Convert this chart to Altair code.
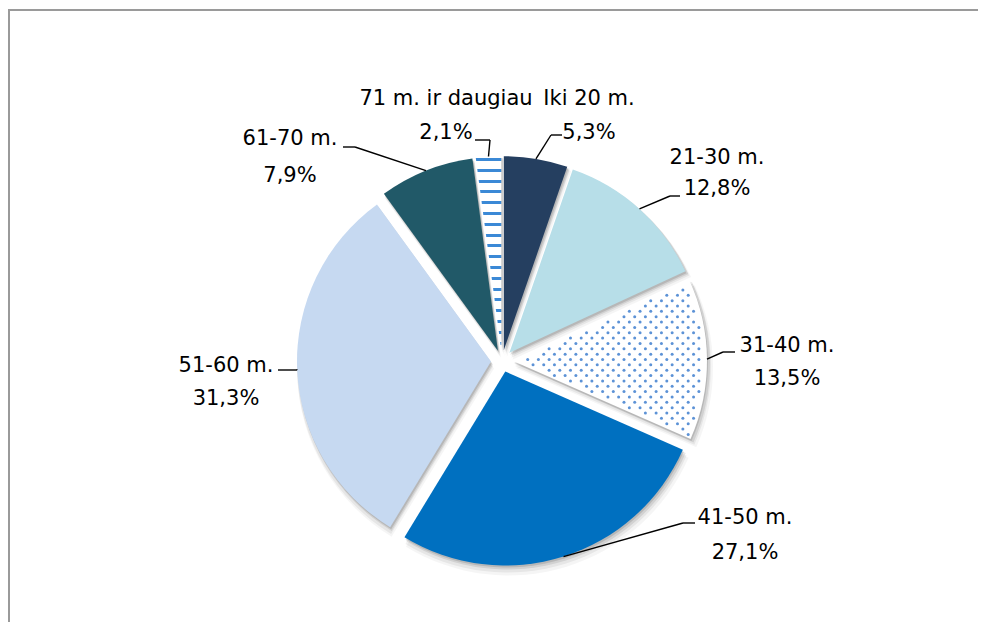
import math
import altair as alt
import pandas as pd

# ---------------- data ----------------
categories = ["Iki 20 m.", "21-30 m.", "31-40 m.", "41-50 m.", "51-60 m.", "61-70 m.", "71 m. ir daugiau"]
values = [5.3, 12.8, 13.5, 27.1, 31.3, 7.9, 2.1]
colors = ["#253F60", "#B7DEE8", "#FFFFFF", "#0070C0", "#C6D9F1", "#215968", "#FFFFFF"]

# ---------------- layout (chart pixel coordinates) ----------------
W, H = 970, 614
CX, CY = 494, 353
R = 194
EXPLODE = 11
label_x = [581, 709, 779, 737, 218, 282, 438]
name_y = [91, 150, 338, 510, 358, 131, 91]
pct_y = [125, 181, 371, 545, 391, 168, 125]
lead_start_x = [554, 672, 727, 687, 270, 335, 467]
lead_start_y = [127, 188, 344, 515, 362, 139, 132]
lead_elbow_x = [543, 662, 715, 675, 289, 347, 482]
lead_elbow_y = [127, 188, 344, 515, 362, 139, 132]

FONT = "DejaVu Sans"
DOT_COLOR = "#4A86D2"
STRIPE_COLOR = "#3B89D6"

df = pd.DataFrame({
    "category": categories,
    "value": values,
    "order": list(range(len(categories))),
    "lx": label_x, "ny": name_y, "py": pct_y,
    "sx": lead_start_x, "sy": lead_start_y,
    "bx": lead_elbow_x, "by": lead_elbow_y,
})

theta_scale = alt.Scale(domain=[0, 100], range=[0, 2 * math.pi])

base = alt.Chart(df).transform_window(
    cum="sum(value)", sort=[alt.SortField("order")], frame=[None, 0]
).transform_calculate(
    c0="datum.cum - datum.value",
    mid="(datum.cum - datum.value / 2) / 100 * 2 * PI",
    cx=f"{CX} + {EXPLODE} * sin(datum.mid)",
    cy=f"{CY} - {EXPLODE} * cos(datum.mid)",
    edx=f"datum.cx + {R} * sin(datum.mid)",
    edy=f"datum.cy - {R} * cos(datum.mid)",
    pct="replace(format(datum.value, '.1f'), '.', ',') + '%'",
)

pos = dict(
    x=alt.X("cx:Q", scale=None, axis=None),
    y=alt.Y("cy:Q", scale=None, axis=None),
    theta=alt.Theta("c0:Q", scale=theta_scale, stack=None),
    theta2=alt.Theta2("cum:Q"),
)

shadows = [
    base.mark_arc(radius=R + 3, color="#000000", opacity=0.04, xOffset=3, yOffset=7).encode(**pos),
    base.mark_arc(radius=R + 2, color="#000000", opacity=0.06, xOffset=2, yOffset=5).encode(**pos),
    base.mark_arc(radius=R + 1, color="#000000", opacity=0.09, xOffset=2, yOffset=3).encode(**pos),
    base.mark_arc(radius=R, color="#000000", opacity=0.12, xOffset=1, yOffset=2).encode(**pos),
]

arcs = base.mark_arc(radius=R).encode(
    color=alt.Color("category:N", scale=alt.Scale(domain=categories, range=colors), legend=None),
    **pos,
)

# striped slice (71 m. ir daugiau) via hard-stop linear gradient
period, thick, first = 10.8, 3.0, 2.0
stops = [alt.GradientStop(color="#FFFFFF", offset=0)]
k = 0
while True:
    s = (first + k * period) / R
    e = s + thick / R
    if e >= 1:
        break
    stops += [
        alt.GradientStop(color="#FFFFFF", offset=s),
        alt.GradientStop(color=STRIPE_COLOR, offset=s),
        alt.GradientStop(color=STRIPE_COLOR, offset=e),
        alt.GradientStop(color="#FFFFFF", offset=e),
    ]
    k += 1
stops.append(alt.GradientStop(color="#FFFFFF", offset=1))
grad = alt.Gradient(gradient="linear", x1=0, y1=0, x2=0, y2=1, stops=stops)
stripes = base.transform_filter(alt.datum.category == categories[6]).mark_arc(
    radius=R, fill=grad
).encode(**pos)

# dotted slice (31-40 m.) via a point texture
idx = 2
a0 = sum(values[:idx]) / 100 * 2 * math.pi
a1 = sum(values[:idx + 1]) / 100 * 2 * math.pi
am = (a0 + a1) / 2
tx = CX + EXPLODE * math.sin(am)
ty = CY - EXPLODE * math.cos(am)
SX, SY = 10.7, 5.35
NCOL = int(R / SX) + 2
NROW = int(2 * R / SY) + 2
dots = alt.Chart(alt.sequence(0, NCOL * NROW, as_="i")).transform_calculate(
    row=f"floor(datum.i / {NCOL})",
    col=f"datum.i % {NCOL}",
    px=f"{tx + 4} + datum.col * {SX} + (datum.row % 2) * {SX / 2}",
    py=f"{ty - R} + datum.row * {SY}",
    dx=f"datum.px - {tx}",
    dy=f"datum.py - {ty}",
    r="sqrt(datum.dx * datum.dx + datum.dy * datum.dy)",
    ang="atan2(datum.dx, -datum.dy)",
).transform_filter(
    f"datum.r < {R - 4} && datum.r * sin(datum.ang - {a0}) > 3 && datum.r * sin({a1} - datum.ang) > 3"
).mark_circle(size=9, color=DOT_COLOR, opacity=0.9).encode(
    x=alt.X("px:Q", scale=None, axis=None),
    y=alt.Y("py:Q", scale=None, axis=None),
)

# leader lines
lead1 = base.mark_rule(color="#000000", strokeWidth=1.4).encode(
    x=alt.X("sx:Q", scale=None), y=alt.Y("sy:Q", scale=None),
    x2="bx:Q", y2="by:Q",
)
lead2 = base.mark_rule(color="#000000", strokeWidth=1.4).encode(
    x=alt.X("bx:Q", scale=None), y=alt.Y("by:Q", scale=None),
    x2="edx:Q", y2="edy:Q",
)

names = base.mark_text(font=FONT, fontSize=21, align="center", baseline="middle", color="#000000").encode(
    x=alt.X("lx:Q", scale=None), y=alt.Y("ny:Q", scale=None), text="category:N"
)
pcts = base.mark_text(font=FONT, fontSize=21, align="center", baseline="middle", color="#000000").encode(
    x=alt.X("lx:Q", scale=None), y=alt.Y("py:Q", scale=None), text="pct:N"
)

# frame
fdf = pd.DataFrame({"a": [0]})
frame_top = alt.Chart(fdf).mark_rule(color="#9A9A9A", strokeWidth=2).encode(
    x=alt.value(0), x2=alt.value(W + 30), y=alt.value(2)
)
frame_left = alt.Chart(fdf).mark_rule(color="#9A9A9A", strokeWidth=2).encode(
    x=alt.value(1), y=alt.value(2), y2=alt.value(H + 30)
)

chart = alt.layer(
    frame_top, frame_left, *shadows, arcs, stripes, dots, lead1, lead2, names, pcts
).properties(
    width=W, height=H, padding=0, autosize=alt.AutoSizeParams(type="none")
).configure_view(stroke=None)

chart.save("out.html", embed_options={"renderer": "svg", "actions": False})
